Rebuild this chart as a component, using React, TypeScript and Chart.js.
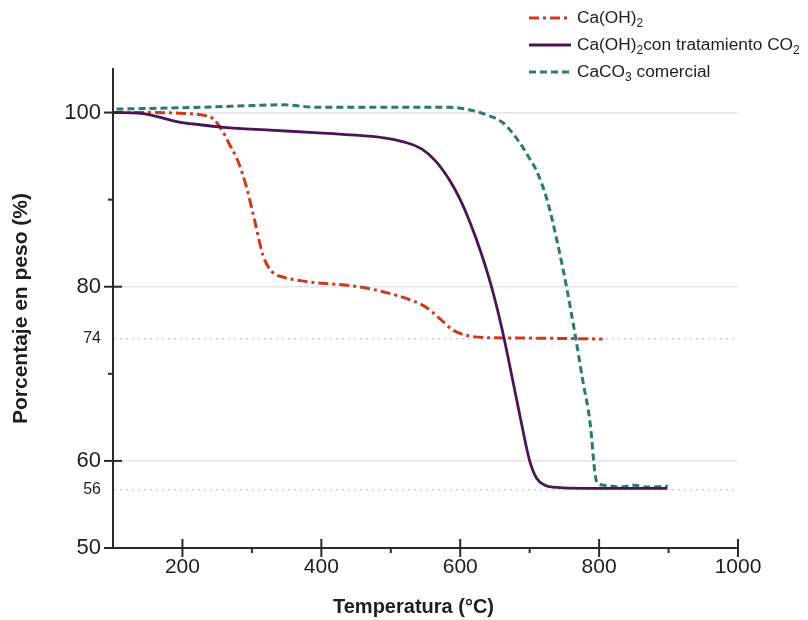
import React, { useEffect, useRef } from "react";
import { Chart, registerables } from "chart.js";
Chart.register(...registerables);

// ---- data ----
const caOH2Temp = [100, 160, 200, 230, 244, 256, 268, 280, 292, 304, 316, 328, 345, 370, 400, 445, 490, 528, 552, 571, 590, 610, 640, 700, 805];
const caOH2Mass = [100, 100, 99.9, 99.7, 99.3, 98.1, 96.3, 94.4, 91.5, 87.6, 83.6, 81.8, 81.1, 80.7, 80.4, 80.1, 79.4, 78.5, 77.6, 76.3, 75.0, 74.4, 74.15, 74.1, 74.0];

const treatedTemp = [100, 140, 165, 190, 225, 260, 320, 390, 450, 490, 520, 545, 565, 585, 600, 615, 630, 645, 660, 675, 690, 700, 710, 722, 740, 780, 898];
const treatedMass = [100, 99.9, 99.5, 99.0, 98.6, 98.3, 98.0, 97.7, 97.4, 97.1, 96.6, 95.8, 94.4, 92.2, 90.0, 87.2, 83.9, 80.0, 75.2, 69.5, 63.6, 60.0, 58.0, 57.2, 56.95, 56.85, 56.85];

const caco3Temp = [105, 225, 300, 345, 394, 500, 585, 614, 639, 662, 686, 700, 710, 725, 739, 754, 765, 777, 787, 794, 797, 808, 830, 850, 870, 899];
const caco3Mass = [100.4, 100.6, 100.8, 100.9, 100.6, 100.6, 100.6, 100.3, 99.7, 98.8, 96.5, 94.7, 93.3, 90.0, 85.4, 79.6, 74.7, 69.0, 64.4, 58.6, 57.5, 57.2, 57.0, 57.2, 57.0, 57.1];

const seriesLabels = ["Ca(OH)₂", "Ca(OH)₂con tratamiento CO₂", "CaCO₃ comercial"];

const xTickValues = [200, 400, 600, 800, 1000];
const xMinorTicks = [300, 500, 700, 900];
const yTickValues = [50, 56.7, 60, 74, 80, 100];
const yTickLabels = ["50", "56", "60", "74", "80", "100"];
const yMajorTicks = [50, 60, 80, 100];
const yMinorTicks = [70, 90];
const yDottedTicks = [56.7, 74];

const xTitle = "Temperatura (°C)";
const yTitle = "Porcentaje en peso (%)";

// ---- styles ----
const FONT = '"Liberation Sans", Arial, Helvetica, sans-serif';
const RED = "#cf3a1e";
const PURPLE = "#4b1456";
const TEAL = "#2b7a72";
const AXIS = "#2a2a2a";
const TEXT = "#1e1e1e";

const tickPlugin = {
  id: "axisTickMarks",
  afterDraw(chart: any) {
    const { ctx, chartArea, scales } = chart;
    const x = scales.x;
    const y = scales.y;
    ctx.save();
    ctx.strokeStyle = AXIS;
    ctx.lineWidth = 2;
    ctx.setLineDash([]);
    const seg = (x1: number, y1: number, x2: number, y2: number) => {
      ctx.beginPath();
      ctx.moveTo(x1, y1);
      ctx.lineTo(x2, y2);
      ctx.stroke();
    };
    xTickValues.forEach((v) => {
      const p = x.getPixelForValue(v);
      seg(p, chartArea.bottom - 9, p, chartArea.bottom + 9);
    });
    xMinorTicks.forEach((v) => {
      const p = x.getPixelForValue(v);
      seg(p, chartArea.bottom, p, chartArea.bottom + 5);
    });
    yMajorTicks.forEach((v) => {
      const p = y.getPixelForValue(v);
      seg(chartArea.left - 9, p, chartArea.left + 9, p);
    });
    yMinorTicks.forEach((v) => {
      const p = y.getPixelForValue(v);
      seg(chartArea.left - 5, p, chartArea.left, p);
    });
    ctx.fillStyle = TEXT;
    ctx.font = `bold 20px ${FONT}`;
    ctx.textAlign = "center";
    ctx.textBaseline = "middle";
    ctx.fillText(xTitle, (chartArea.left + chartArea.right) / 2 - 12, chart.height - 13);
    ctx.restore();
  },
};

function LegendRow({ dash, color, children }: { dash: string; color: string; children: any }) {
  return (
    <div style={{ display: "flex", alignItems: "center", height: 27 }}>
      <svg width={42} height={10} style={{ display: "block" }}>
        <line x1={0} y1={5} x2={42} y2={5} stroke={color} strokeWidth={3} strokeDasharray={dash} />
      </svg>
      <span style={{ marginLeft: 6, whiteSpace: "nowrap" }}>{children}</span>
    </div>
  );
}

const subStyle: any = { fontSize: 12, verticalAlign: "-4px", lineHeight: 0 };

export default function App() {
  const ref = useRef<HTMLCanvasElement | null>(null);

  useEffect(() => {
    if (!ref.current) return;
    const mk = (t: number[], m: number[]) => t.map((v, i) => ({ x: v, y: m[i] }));
    const chart = new Chart(ref.current, {
      type: "line",
      data: {
        datasets: [
          {
            label: seriesLabels[0],
            data: mk(caOH2Temp, caOH2Mass),
            borderColor: RED,
            borderWidth: 3,
            borderDash: [10, 4, 3, 4],
            pointRadius: 0,
            fill: false,
            cubicInterpolationMode: "monotone",
            order: 2,
          },
          {
            label: seriesLabels[1],
            data: mk(treatedTemp, treatedMass),
            borderColor: PURPLE,
            borderWidth: 2.8,
            pointRadius: 0,
            fill: false,
            cubicInterpolationMode: "monotone",
            order: 1,
          },
          {
            label: seriesLabels[2],
            data: mk(caco3Temp, caco3Mass),
            borderColor: TEAL,
            borderWidth: 3,
            borderDash: [7, 4],
            pointRadius: 0,
            fill: false,
            cubicInterpolationMode: "monotone",
            order: 3,
          },
        ],
      },
      options: {
        responsive: false,
        animation: false,
        layout: { padding: { top: 69, right: 70, left: 0, bottom: 0 } },
        plugins: { legend: { display: false }, tooltip: { enabled: false } },
        scales: {
          x: {
            type: "linear",
            min: 100,
            max: 1000,
            afterBuildTicks: (s: any) => {
              s.ticks = xTickValues.map((v) => ({ value: v }));
            },
            afterFit: (s: any) => {
              s.height = 72;
            },
            grid: { display: false, drawTicks: false },
            border: { display: true, color: AXIS, width: 2 },
            ticks: {
              autoSkip: false,
              maxRotation: 0,
              padding: 7,
              color: TEXT,
              font: { family: FONT, size: 21 },
              callback: (v: any) => String(v),
            },
            title: { display: false },
          },
          y: {
            type: "linear",
            min: 50,
            max: 105,
            afterBuildTicks: (s: any) => {
              s.ticks = yTickValues.map((v) => ({ value: v }));
            },
            afterFit: (s: any) => {
              s.width = 113;
            },
            grid: {
              drawTicks: false,
              lineWidth: (c: any) => (c.tick && yDottedTicks.includes(c.tick.value) ? 1.3 : 1.5),
              color: (c: any) => {
                const v = c.tick ? c.tick.value : null;
                if (v === 50) return "rgba(0,0,0,0)";
                if (v !== null && yDottedTicks.includes(v)) return "#c4c4c4";
                return "#e6e6e6";
              },
            },
            border: {
              display: true,
              color: AXIS,
              width: 2,
              dash: (c: any) => (c.tick && yDottedTicks.includes(c.tick.value) ? [2, 4] : []),
            },
            ticks: {
              autoSkip: false,
              padding: 12,
              color: TEXT,
              font: (c: any) => ({
                family: FONT,
                size: c.tick && yDottedTicks.includes(c.tick.value) ? 16 : 22,
              }),
              callback: (v: any) => {
                const i = yTickValues.indexOf(Number(v));
                return i >= 0 ? yTickLabels[i] : "";
              },
            },
            title: {
              display: true,
              text: yTitle,
              color: TEXT,
              font: { family: FONT, size: 21, weight: "bold" },
              padding: { top: 9, bottom: 4 },
            },
          },
        },
      },
      plugins: [tickPlugin],
    } as any);
    return () => chart.destroy();
  }, []);

  return (
    <div style={{ position: "fixed", left: 0, top: 0, width: 808, height: 620, background: "#fff" }}>
      <canvas ref={ref} width={808} height={620} style={{ display: "block", width: 808, height: 620 }} />
      <div
        style={{
          position: "absolute",
          left: 529,
          top: 4,
          fontFamily: FONT,
          fontSize: 17.3,
          color: TEXT,
        }}
      >
        <LegendRow dash="10 4 3 4" color={RED}>
          Ca(OH)<sub style={subStyle}>2</sub>
        </LegendRow>
        <LegendRow dash="" color={PURPLE}>
          Ca(OH)<sub style={subStyle}>2</sub>con tratamiento CO<sub style={subStyle}>2</sub>
        </LegendRow>
        <LegendRow dash="7 4" color={TEAL}>
          CaCO<sub style={subStyle}>3</sub> comercial
        </LegendRow>
      </div>
    </div>
  );
}
